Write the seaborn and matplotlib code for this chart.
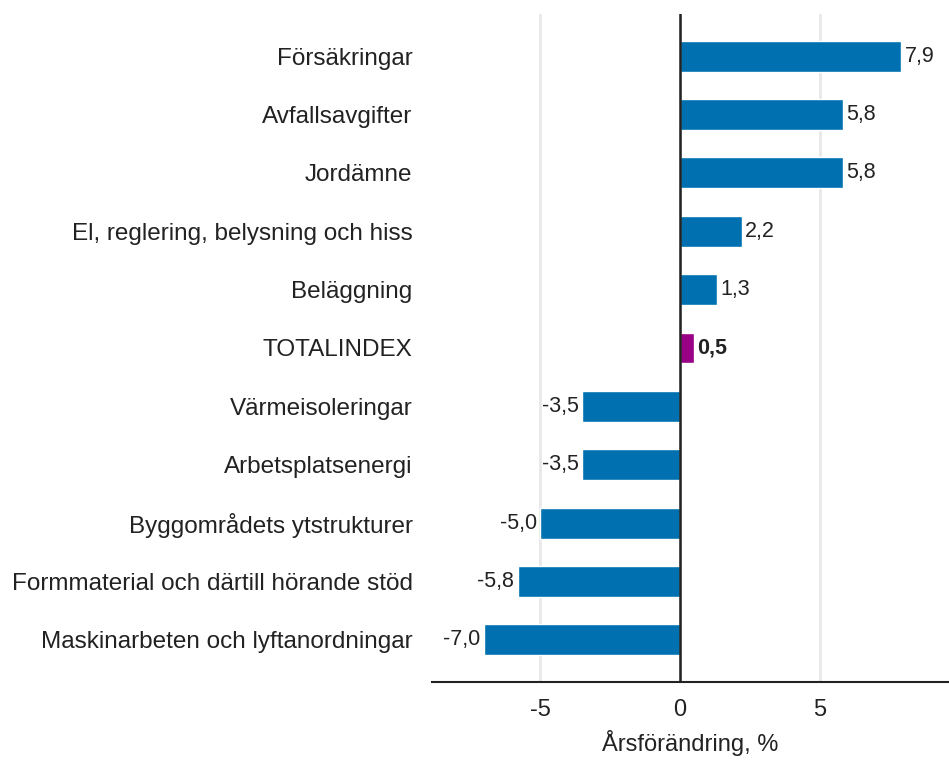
import pandas as pd
import matplotlib
matplotlib.use("Agg")
import matplotlib.pyplot as plt
import seaborn as sns

# categories and yearly change
categories = ['Försäkringar', 'Avfallsavgifter', 'Jordämne',
              'El, reglering, belysning och hiss', 'Beläggning', 'TOTALINDEX',
              'Värmeisoleringar', 'Arbetsplatsenergi', 'Byggområdets ytstrukturer',
              'Formmaterial och därtill hörande stöd',
              'Maskinarbeten och lyftanordningar']
values = [7.9, 5.8, 5.8, 2.2, 1.3, 0.5, -3.5, -3.5, -5.0, -5.8, -7.0]
total_name = 'TOTALINDEX'

blue = '#0070b0'
purple = '#990085'

df = pd.DataFrame({'Kategori': categories, 'Värde': values})
df['grp'] = ['total' if c == total_name else 'other' for c in df['Kategori']]

sns.set_style('white')
plt.rcParams['font.family'] = ['Liberation Sans', 'DejaVu Sans']

fig = plt.figure(figsize=(9.49, 7.6), dpi=100)
ax = fig.add_axes([432 / 949, 1 - 682 / 760, 517 / 949, 668 / 760])

sns.barplot(data=df, x='Värde', y='Kategori', hue='grp',
            palette={'other': blue, 'total': purple}, dodge=False,
            width=0.53, legend=False, ax=ax, saturation=1, zorder=3)

# value labels with comma decimals
for i, v in enumerate(values):
    txt = f'{v:.1f}'.replace('.', ',')
    bold = categories[i] == total_name
    if v >= 0:
        ax.text(v + 0.12, i, txt, va='center', ha='left', fontsize=15.5,
                fontweight='bold' if bold else 'normal', color='#222222')
    else:
        ax.text(v - 0.12, i, txt, va='center', ha='right', fontsize=15.5,
                color='#222222')

ax.set_xlim(-8.86, 9.6)
ax.set_ylim(10.72, -0.72)
ax.set_xticks([-5, 0, 5])
ax.set_xticklabels(['-5', '0', '5'], fontsize=17)
ax.tick_params(axis='y', labelsize=17.5, length=0, pad=14, colors='#222222')
ax.tick_params(axis='x', length=0, pad=12, colors='#222222')

ax.xaxis.grid(True, color='#e8e8e8', linewidth=2, zorder=0)
ax.set_axisbelow(True)
ax.axvline(0, color='#222222', linewidth=1.8, zorder=4)

for s in ['top', 'right', 'left']:
    ax.spines[s].set_visible(False)
ax.spines['bottom'].set_color('#222222')
ax.spines['bottom'].set_linewidth(1.5)

ax.set_ylabel('')
ax.set_xlabel('Årsförändring, %', fontsize=17, labelpad=7, color='#222222')

fig.savefig('out.png', dpi=100)
